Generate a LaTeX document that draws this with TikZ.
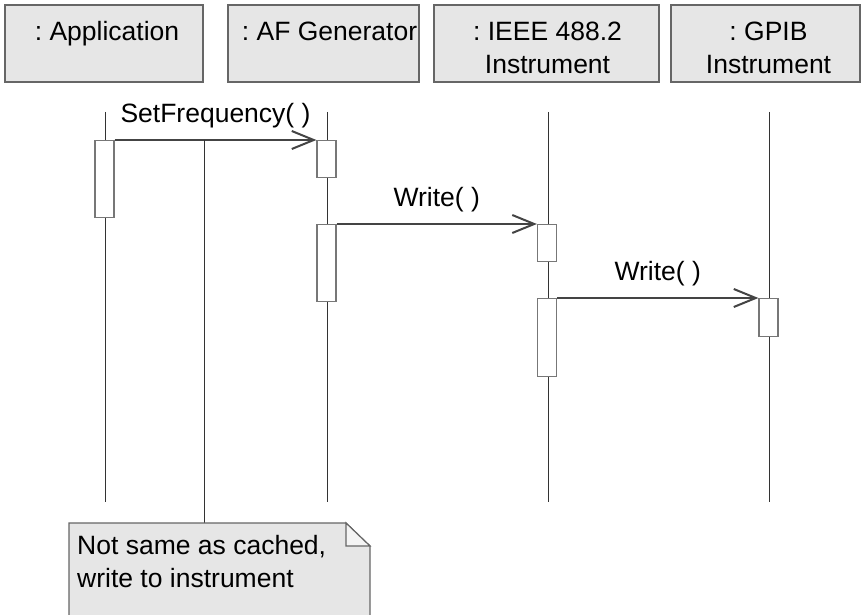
\documentclass[tikz,border=0pt]{standalone}
\usepackage{fontspec}
\setmainfont{Liberation Sans}
\usetikzlibrary{arrows.meta}
\frenchspacing
\definecolor{boxfill}{HTML}{E6E6E6}
\definecolor{boxline}{HTML}{666666}
\definecolor{barline}{HTML}{777777}
\definecolor{lifecol}{HTML}{333333}
\definecolor{msgcol}{HTML}{444444}
\definecolor{foldfill}{HTML}{F4F4F4}

\begin{document}
\begin{tikzpicture}[x=1pt,y=1pt]
	\tikzset{objbox/.style={draw=boxline, fill=boxfill, line width=1.2pt, minimum height=77pt, inner sep=0pt},
		objtext/.style={anchor=north, align=center, inner sep=0pt, font=\fontsize{26.5}{33}\selectfont},
		lifeline/.style={draw=lifecol, line width=1pt},
		actbar/.style={draw=barline, fill=white, line width=1.2pt, minimum width=19pt, anchor=north, inner sep=0pt},
		msg/.style={draw=msgcol, line width=1.2pt, -{Straight Barb[length=22pt, width=18pt, line width=2pt]}},
		msglabel/.style={midway, anchor=base, yshift=18pt, inner sep=0pt, font=\fontsize{26.5}{33}\selectfont},
		notetext/.style={anchor=north west, align=left, inner sep=0pt, font=\fontsize{26.5}{33}\selectfont}}
	\useasboundingbox (0,0) rectangle (861,-615);

	\draw (104,-43.5) node [objbox, minimum width=198pt] (AppBox) {};
	\draw (323.5,-43.5) node [objbox, minimum width=191pt] (AFBox) {};
	\draw (546.5,-43.5) node [objbox, minimum width=225pt] (IEEEBox) {};
	\draw (765.5,-43.5) node [objbox, minimum width=189pt] (GPIBBox) {};

	\draw (AppBox.north) ++(3,-17) node [objtext] (AppText) {: Application};
	\draw (AFBox.north) ++(6,-17) node [objtext] (AFText) {: AF Generator};
	\draw (IEEEBox.north) ++(1,-17) node [objtext] (IEEEText) {: IEEE 488.2\\Instrument};
	\draw (GPIBBox.north) ++(3,-17) node [objtext] (GPIBText) {: GPIB\\Instrument};

	\draw [lifeline] (105,-112) coordinate (AppTop) -- (105,-502) coordinate (AppEnd);
	\draw [lifeline] (327,-112) coordinate (AFTop) -- (327,-502) coordinate (AFEnd);
	\draw [lifeline] (548,-112) coordinate (IEEETop) -- (548,-502) coordinate (IEEEEnd);
	\draw [lifeline] (769,-112) coordinate (GPIBTop) -- (769,-502) coordinate (GPIBEnd);

	\draw (104.5,-140) node [actbar, minimum height=77pt] (AppAct) {};
	\draw (326.5,-140) node [actbar, minimum height=37pt] (AFAct1) {};
	\draw (326.5,-224) node [actbar, minimum height=77pt] (AFAct2) {};
	\draw (547,-224) node [actbar, minimum height=37pt] (IEEEAct1) {};
	\draw (547,-298) node [actbar, minimum height=78pt] (IEEEAct2) {};
	\draw (768.5,-298) node [actbar, minimum height=38pt] (GPIBAct) {};

	\draw [msg] (AppAct.north east) -- (AFAct1.north west) node [msglabel] (SetFreq) {SetFrequency( )};
	\draw [msg] (AFAct2.north east) -- (IEEEAct1.north west) node [msglabel] (Write1) {Write( )};
	\draw [msg] (IEEEAct2.north east) -- (GPIBAct.north west) node [msglabel] (Write2) {Write( )};

	\coordinate (NoteTop) at (204,-523);
	\draw [lifeline] (NoteTop) -- (NoteTop |- AppAct.north);
	\draw [draw=boxline, fill=boxfill, line width=1.2pt] (69,-523) -- (346,-523) -- (370,-546) -- (370,-630) -- (69,-630) -- cycle;
	\draw [draw=boxline, fill=foldfill, line width=1.2pt] (346,-523) -- (346,-546) -- (370,-546) -- cycle;
	\draw (77,-535) node [notetext] (NoteText) {Not same as cached,\\write to instrument};
\end{tikzpicture}
\end{document}
